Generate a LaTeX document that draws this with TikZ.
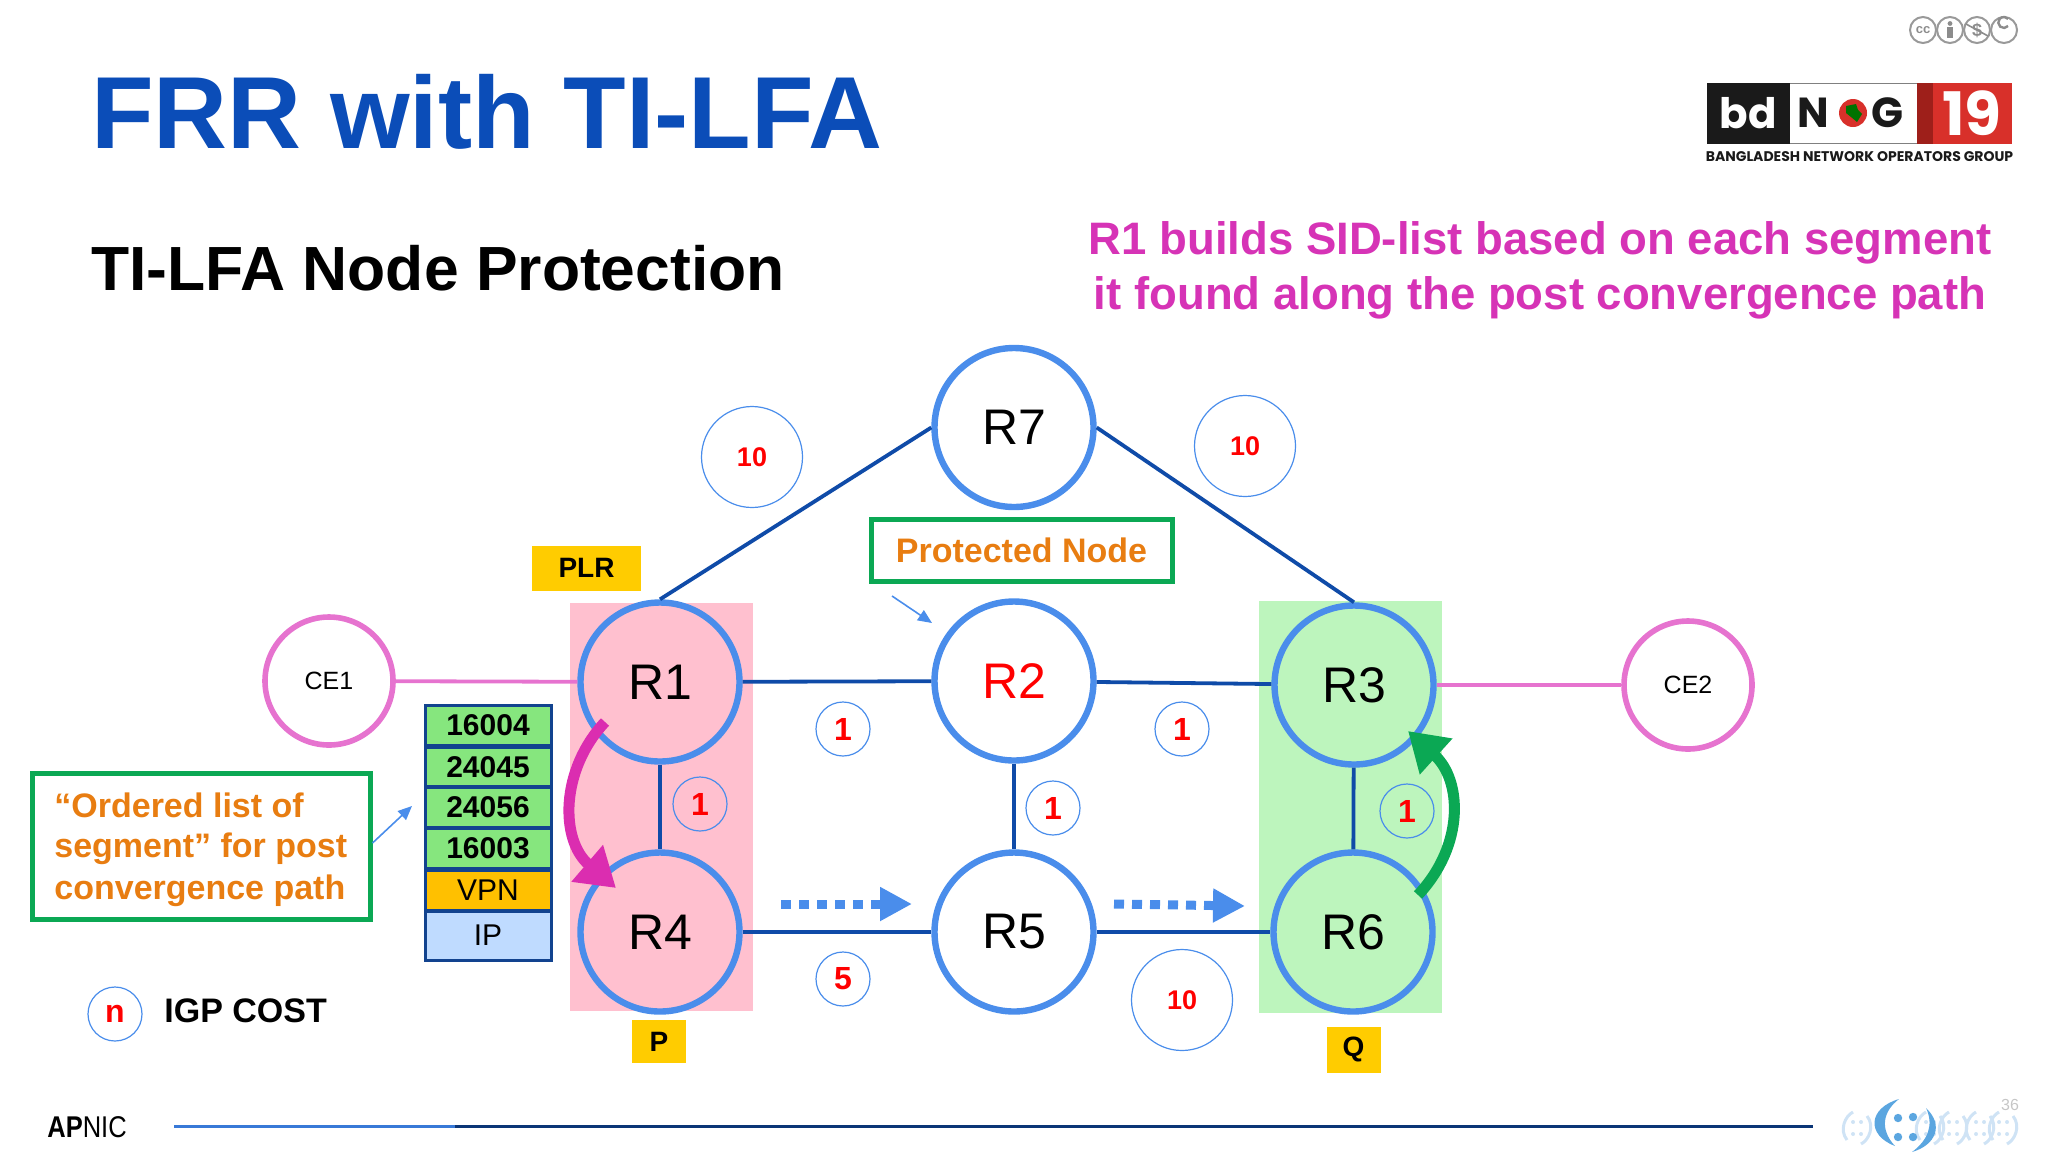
\documentclass[tikz,border=0pt]{standalone}
\usepackage{fontspec}
\setmainfont{Liberation Sans}
\newfontfamily\logofont{Poppins}
\newfontfamily\narrowfont{Liberation Sans}[FakeStretch=0.85]
\usetikzlibrary{arrows.meta}
\definecolor{titleblue}{HTML}{0B4DB8}
\definecolor{edgeblue}{HTML}{0F4BA8}
\definecolor{ringblue}{HTML}{4A8DEB}
\definecolor{routerpink}{HTML}{FFC0CF}
\definecolor{routergreen}{HTML}{BDF5BD}
\definecolor{ceviolet}{HTML}{E673CF}
\definecolor{textmagenta}{HTML}{D633B6}
\definecolor{arrowmagenta}{HTML}{DB2DB0}
\definecolor{textorange}{HTML}{E87D11}
\definecolor{boxgreen}{HTML}{0BA854}
\definecolor{tagyellow}{HTML}{FFCC00}
\definecolor{sidgreen}{HTML}{86E67E}
\definecolor{vpnyellow}{HTML}{FFC000}
\definecolor{ipblue}{HTML}{BFDBFF}
\definecolor{sidborder}{HTML}{12438F}
\definecolor{logored}{HTML}{D8302A}
\definecolor{logodark}{HTML}{9E1F1A}
\definecolor{logoink}{HTML}{1A1A1A}
\definecolor{wmblue}{HTML}{5BA6E0}
\definecolor{wmlight}{HTML}{CFE3F5}
\tikzset{
  router/.style={circle, draw=ringblue, line width=3.2pt, minimum size=79.5pt, inner sep=0pt, font=\fontsize{25}{25}\selectfont},
  cenode/.style={circle, draw=ceviolet, line width=2.8pt, minimum size=64pt, inner sep=0pt, font=\fontsize{12.5}{12.5}\selectfont},
  bigcost/.style={circle, draw=ringblue, line width=0.6pt, minimum size=50.5pt, inner sep=0pt, text=red, font=\bfseries\fontsize{13.5}{13.5}\selectfont},
  smallcost/.style={circle, draw=ringblue, line width=0.6pt, minimum size=27pt, inner sep=0pt, text=red, font=\bfseries\fontsize{16}{16}\selectfont},
  link/.style={edgeblue, line width=1.9pt},
  celink/.style={ceviolet, line width=1.9pt},
  sidrow/.style={draw=sidborder, line width=1.5pt, minimum width=63pt, inner sep=0pt, font=\fontsize{15}{15}\selectfont},
  tag/.style={fill=tagyellow, inner sep=0pt, font=\bfseries\fontsize{14}{14}\selectfont},
  pointer/.style={ringblue, line width=0.8pt, -{Triangle[length=7pt,width=6pt]}},
  dotarrow/.style={ringblue, line width=4.5pt, dash pattern=on 5pt off 4pt, -{Triangle[length=16pt,width=16pt]}},
  logotext/.style={inner sep=0pt, font=\logofont\bfseries\fontsize{21}{21}\selectfont},
  ccicon/.style={circle, draw=gray!80, line width=1pt, minimum size=13pt, inner sep=0pt, text=gray!90, font=\bfseries\fontsize{6.5}{6.5}\selectfont},
  wmdot/.style={fill=wmlight}
}
\begin{document}
\begin{tikzpicture}[x=0.5pt, y=-0.5pt]
\useasboundingbox (0,0) rectangle (2048,1152);

\node[anchor=base west, inner sep=0pt, text=titleblue, font=\bfseries\fontsize{51.2}{51.2}\selectfont] (title) at (91,148) {FRR with TI-LFA};
\node[anchor=base west, inner sep=0pt, font=\bfseries\fontsize{31.2}{31.2}\selectfont] (subtitle) at (91,290) {TI-LFA Node Protection};
\node[anchor=base, inner sep=0pt, text=textmagenta, font=\bfseries\fontsize{22.75}{22.75}\selectfont] (noteA) at (1540,254) {R1 builds SID-list based on each segment};
\node[anchor=base, inner sep=0pt, text=textmagenta, font=\bfseries\fontsize{22.75}{22.75}\selectfont] (noteB) at (1540,309) {it found along the post convergence path};

% cc badges
\node[ccicon] (ccA) at (1923,30) {cc};
\node[ccicon] (ccB) at (1950,30) {};
\node[ccicon, font=\bfseries\fontsize{9}{9}\selectfont] (ccC) at (1977,30) {\$};
\node[ccicon] (ccD) at (2004,30) {};
\fill[gray!90] (1950,23.5) circle (2.4);
\fill[gray!90] (1947,27) rectangle (1953,38);
\draw[gray!90, line width=0.8pt] (1966,24) -- (1988,36);
\draw[gray!90, line width=1.2pt] (2008,26) arc (40:320:5.5);

% logo
\fill[logoink] (1707,83) rectangle (1790,144);
\draw[gray, line width=0.5pt] (1790,83.5) -- (1917,83.5);
\draw[gray, line width=0.5pt] (1790,143.5) -- (1917,143.5);
\fill[logodark] (1917,83) rectangle (1933,144);
\fill[logored] (1933,83) rectangle (2012,144);
\node[logotext, text=white] (logoBd) at (1748,113) {bd};
\node[logotext, text=logoink] (logoN) at (1813,113) {N};
\node[circle, fill=logored, minimum size=14pt, inner sep=0pt] (logoO) at (1853,113) {};
\fill[green!45!black] (1846,106) -- (1856,104) -- (1858,110) -- (1862,114) -- (1857,122) -- (1851,117) -- (1846,113) -- cycle;
\node[logotext, text=logoink] (logoG) at (1887,113) {G};
\node[logotext, text=white, font=\logofont\bfseries\fontsize{30}{30}\selectfont] (logoNum) at (1972,113) {19};
\node[inner sep=0pt, text=logoink, font=\logofont\bfseries\fontsize{7}{7}\selectfont] (logoSub) at (1859.5,157) {BANGLADESH NETWORK OPERATORS GROUP};

% shaded zones
\fill[routerpink] (570,603) rectangle (753,1011);
\fill[routergreen] (1259,601) rectangle (1442,1013);

\node[router, fill=white] (R7) at (1014,427.5) {R7};
\node[router, fill=routerpink] (R1) at (660,682) {R1};
\node[router, fill=white, text=red] (R2) at (1014,681) {R2};
\node[router, fill=routergreen] (R3) at (1354,685) {R3};
\node[router, fill=routerpink] (R4) at (660,932) {R4};
\node[router, fill=white] (R5) at (1014,932) {R5};
\node[router, fill=routergreen] (R6) at (1353,932) {R6};
\node[cenode] (CE1) at (329,681) {CE1};
\node[cenode] (CE2) at (1688,685) {CE2};

\draw[celink] (CE1) -- (R1);
\draw[celink] (R3) -- (CE2);
\draw[link] (R7.west) -- (R1.north);
\draw[link] (R7.east) -- (R3.north);
\draw[link] (R1) -- (R2);
\draw[link] (R2) -- (R3);
\draw[link] (R1) -- (R4);
\draw[link] (R2) -- (R5);
\draw[link] (R3) -- (R6);
\draw[link] (R4) -- (R5);
\draw[link] (R5) -- (R6);

\node[bigcost] (costA) at (752,457) {10};
\node[bigcost] (costB) at (1245,446) {10};
\node[bigcost] (costC) at (1182,1000) {10};
\node[smallcost] (costD) at (843,729) {1};
\node[smallcost] (costE) at (1182,729) {1};
\node[smallcost] (costF) at (700,804) {1};
\node[smallcost] (costG) at (1053,808) {1};
\node[smallcost] (costH) at (1407,811) {1};
\node[smallcost] (costI) at (843,979) {5};
\node[smallcost] (costN) at (115,1014) {n};
\node[anchor=base west, inner sep=0pt, font=\bfseries\fontsize{17}{17}\selectfont] (igp) at (164,1022) {IGP COST};

\node[tag, minimum width=54.5pt, minimum height=22.5pt] (plr) at (586.5,568) {PLR};
\node[tag, minimum width=27pt, minimum height=21.5pt] (tagP) at (659,1041.5) {P};
\node[tag, minimum width=27pt, minimum height=23pt] (tagQ) at (1353.5,1049.5) {Q};

\node[draw=boxgreen, line width=2.5pt, minimum width=150.5pt, minimum height=31pt, inner sep=0pt, text=textorange, font=\bfseries\fontsize{17}{17}\selectfont] (protected) at (1021.5,550.5) {Protected Node};
\coordinate (protectedTail) at (892,596);
\draw[pointer] (protectedTail) -- (932,623);

% label stack
\node[sidrow, fill=sidgreen, minimum height=20pt, font=\bfseries\fontsize{15}{15}\selectfont] (sidA) at (488,725.5) {16004};
\node[sidrow, fill=sidgreen, minimum height=19.5pt, font=\bfseries\fontsize{15}{15}\selectfont] (sidB) at (488,767) {24045};
\node[sidrow, fill=sidgreen, minimum height=20pt, font=\bfseries\fontsize{15}{15}\selectfont] (sidC) at (488,807.5) {24056};
\node[sidrow, fill=sidgreen, minimum height=20pt, font=\bfseries\fontsize{15}{15}\selectfont] (sidD) at (488,848.5) {16003};
\node[sidrow, fill=vpnyellow, minimum height=20pt] (sidVpn) at (488,890) {VPN};
\node[sidrow, fill=ipblue, minimum height=24.5pt] (sidIp) at (488,935.5) {IP};

\node[draw=boxgreen, line width=2.5pt, minimum width=169pt, minimum height=73pt, inner sep=0pt] (orderedBox) at (201,846) {};
\node[anchor=base west, inner sep=0pt, text=textorange, font=\bfseries\fontsize{17}{17}\selectfont] (orderedA) at (54,817) {“Ordered list of};
\node[anchor=base west, inner sep=0pt, text=textorange, font=\bfseries\fontsize{17}{17}\selectfont] (orderedB) at (54,857) {segment” for post};
\node[anchor=base west, inner sep=0pt, text=textorange, font=\bfseries\fontsize{17}{17}\selectfont] (orderedC) at (54,899) {convergence path};
\coordinate (stackTarget) at (412,806);
\draw[pointer] (orderedBox.east |- 0,843) -- (stackTarget);

% segment arrows
\coordinate (magStart) at (605,722);
\coordinate (magEnd) at (616,888);
\draw[arrowmagenta, line width=5.5pt, -{Triangle[length=19pt,width=23pt]}] (magStart) .. controls (560,770) and (560,840) .. (magEnd);
\coordinate (grnStart) at (1418,895);
\coordinate (grnEnd) at (1408,731);
\draw[boxgreen, line width=5.5pt, -{Triangle[length=19pt,width=23pt]}] (grnStart) .. controls (1465,845) and (1462,780) .. (grnEnd);
\coordinate (dotA) at (781,904);
\coordinate (dotB) at (912,904);
\coordinate (dotC) at (1114,904);
\coordinate (dotD) at (1245,906);
\draw[dotarrow] (dotA) -- (dotB);
\draw[dotarrow] (dotC) -- (dotD);

% footer
\node[anchor=base west, inner sep=0pt, font=\fontsize{15}{15}\selectfont] (apnic) at (47,1137) {{\bfseries\narrowfont AP}{\narrowfont NIC}};
\draw[ringblue!70!edgeblue, line width=1.5pt] (174,1126) -- (455,1126);
\draw[edgeblue!70!black, line width=1.5pt] (455,1126) -- (1813,1126);
\foreach \cx in {1857,1930,1953,1980,2003} {
  \draw[wmlight, line width=1.5pt] (\cx-10,1140) .. controls (\cx-18,1130) and (\cx-12,1116) .. (\cx-4,1112);
  \draw[wmlight, line width=1.5pt] (\cx+10,1116) .. controls (\cx+18,1126) and (\cx+12,1140) .. (\cx+4,1144);
  \fill[wmdot] (\cx-4,1122) circle (2);
  \fill[wmdot] (\cx+4,1122) circle (2);
  \fill[wmdot] (\cx-4,1134) circle (2);
  \fill[wmdot] (\cx+4,1134) circle (2);
}
\fill[wmblue] (1899,1099) .. controls (1868,1108) and (1866,1135) .. (1895,1146) .. controls (1880,1130) and (1882,1112) .. cycle;
\fill[wmblue] (1926,1108) .. controls (1944,1125) and (1936,1145) .. (1912,1152) .. controls (1928,1140) and (1934,1125) .. cycle;
\foreach \dx/\dy in {1898/1118, 1913/1117, 1898/1137, 1913/1137} {
  \fill[wmblue] (\dx,\dy) circle (4.2);
}
\node[inner sep=0pt, text=gray!45, font=\fontsize{8}{8}\selectfont] (pageNum) at (2010,1105) {36};
\end{tikzpicture}
\end{document}
